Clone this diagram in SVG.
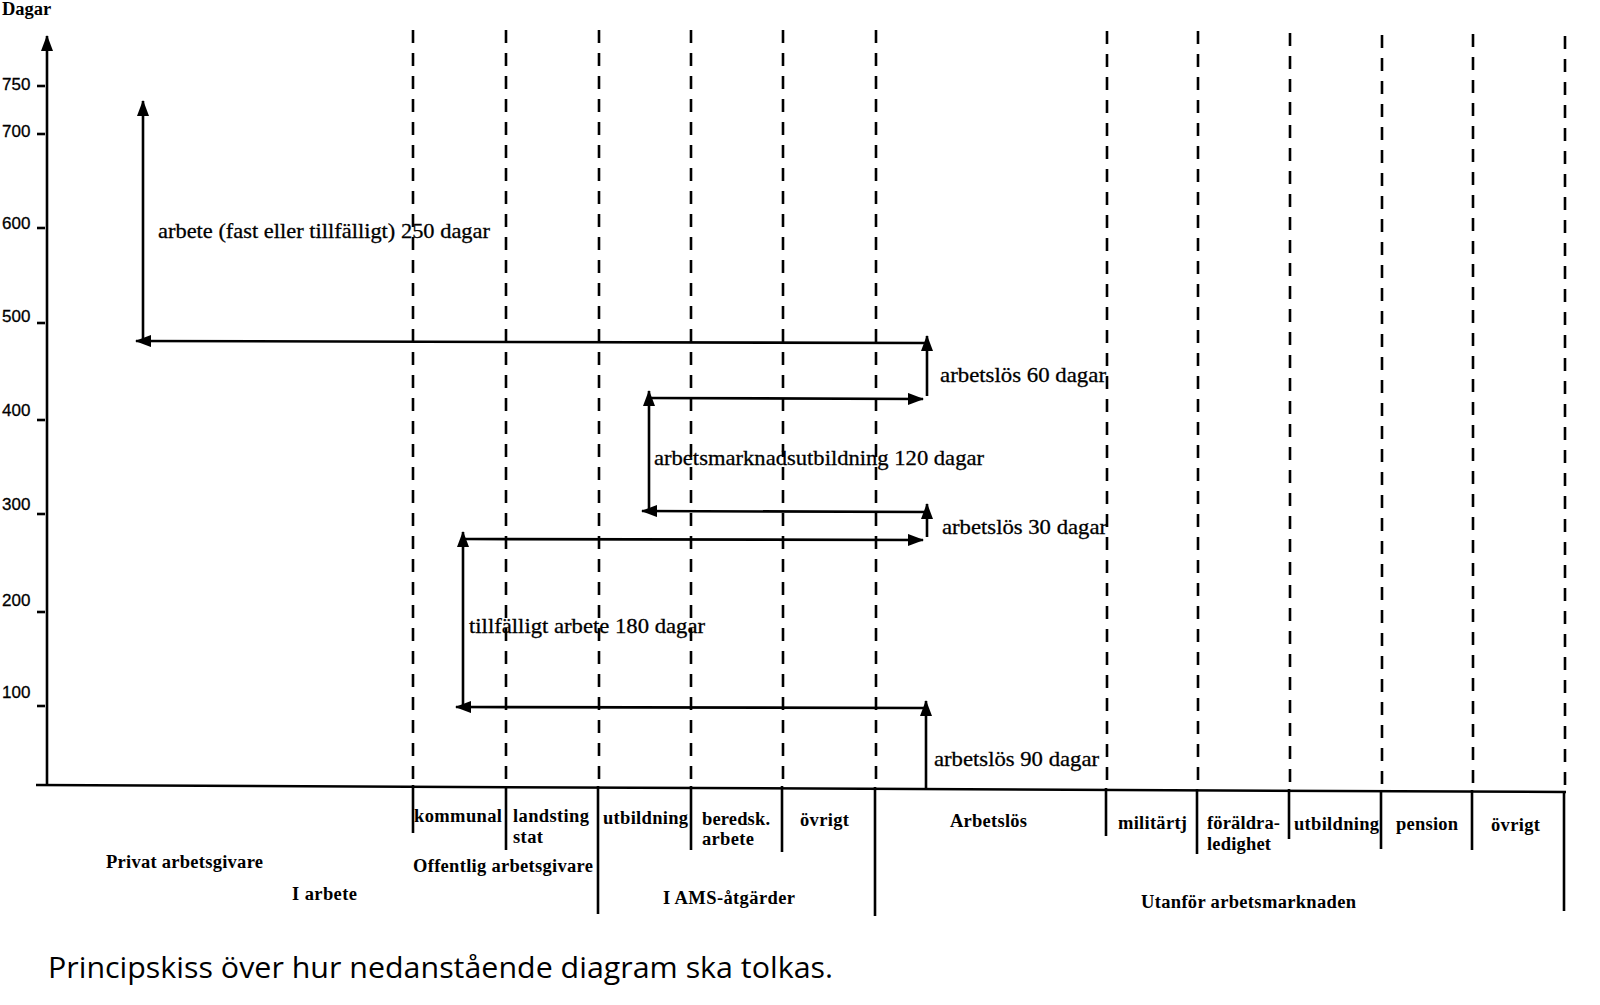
<svg xmlns="http://www.w3.org/2000/svg" width="1600" height="1005" viewBox="0 0 1600 1005">
<defs>
<marker id="ah" viewBox="0 0 16 12" refX="15" refY="6" markerWidth="16" markerHeight="12" markerUnits="userSpaceOnUse" orient="auto">
<path d="M0,0 L16,6 L0,12 Z" fill="#000"/>
</marker>
</defs>
<style>
.ax{stroke:#000;stroke-width:2.5;fill:none}
.dash{stroke:#000;stroke-width:2.6;fill:none;stroke-dasharray:13 10}
.sol{stroke:#000;stroke-width:2.6;fill:none}
.arr{stroke:#000;stroke-width:2.6;fill:none;marker-end:url(#ah)}
.tk{font-family:"Liberation Sans",Arial,sans-serif;font-size:17px;fill:#000;stroke:#000;stroke-width:0.3}
.lbl{font-family:"Liberation Serif","Times New Roman",serif;font-size:22px;fill:#000;stroke:#000;stroke-width:0.3}
.cat{font-family:"Liberation Serif","Times New Roman",serif;font-size:18.5px;font-weight:bold;fill:#000}
.cap{font-family:"Open Sans","Noto Sans",sans-serif;font-size:29px;fill:#000}
</style>
<rect width="1600" height="1005" fill="#fff"/>
<g id="axes">
<line class="arr" x1="47" y1="786" x2="47" y2="36"/>
<line class="ax" x1="36" y1="785" x2="1566" y2="792"/>
<text class="cat" x="2" y="15" font-size="16">Dagar</text>
<g class="tk">
<text x="2" y="90">750</text><text x="2" y="137">700</text><text x="2" y="229">600</text><text x="2" y="322">500</text><text x="2" y="416">400</text><text x="2" y="510">300</text><text x="2" y="606">200</text><text x="2" y="698">100</text>
</g>
<g class="sol" stroke-width="1.5">
<line x1="37" y1="86" x2="45" y2="86"/><line x1="37" y1="134" x2="45" y2="134"/><line x1="37" y1="228" x2="45" y2="228"/><line x1="37" y1="323" x2="45" y2="323"/><line x1="37" y1="420" x2="45" y2="420"/><line x1="37" y1="514" x2="45" y2="514"/><line x1="37" y1="612" x2="45" y2="612"/><line x1="37" y1="706" x2="45" y2="706"/>
</g>
</g>
<g id="dividers">
<g class="dash">
<line x1="413" y1="30" x2="413" y2="785"/>
<line x1="506" y1="30" x2="506" y2="785"/>
<line x1="599" y1="30" x2="599" y2="786"/>
<line x1="691" y1="30" x2="691" y2="786"/>
<line x1="783" y1="30" x2="783" y2="786"/>
<line x1="876" y1="30" x2="876" y2="787"/>
<line x1="1107" y1="31" x2="1107" y2="788"/>
<line x1="1198" y1="31" x2="1198" y2="789"/>
<line x1="1290" y1="33" x2="1290" y2="789"/>
<line x1="1382" y1="35" x2="1382" y2="790"/>
<line x1="1473" y1="34" x2="1473" y2="790"/>
<line x1="1565" y1="36" x2="1565" y2="791"/>
</g>
<g class="sol">
<line x1="413" y1="785" x2="413" y2="833"/>
<line x1="506" y1="786" x2="506" y2="850"/>
<line x1="598" y1="786" x2="598" y2="914"/>
<line x1="691" y1="786" x2="691" y2="850"/>
<line x1="782" y1="786" x2="782" y2="852"/>
<line x1="875" y1="787" x2="875" y2="916"/>
<line x1="1106" y1="788" x2="1106" y2="836"/>
<line x1="1197" y1="789" x2="1197" y2="854"/>
<line x1="1289" y1="789" x2="1289" y2="839"/>
<line x1="1381" y1="790" x2="1381" y2="849"/>
<line x1="1472" y1="790" x2="1472" y2="850"/>
<line x1="1564" y1="791" x2="1564" y2="911"/>
</g>
</g>
<g id="connectors">
<line class="arr" x1="143" y1="341" x2="143" y2="101"/>
<line class="arr" x1="927" y1="343" x2="136" y2="341"/>
<line class="arr" x1="927" y1="396" x2="927" y2="336"/>
<line class="arr" x1="649" y1="398" x2="923" y2="399"/>
<line class="arr" x1="649" y1="510" x2="649" y2="391"/>
<line class="arr" x1="927" y1="512" x2="642" y2="511"/>
<line class="arr" x1="927" y1="537" x2="927" y2="504"/>
<line class="arr" x1="463" y1="539" x2="923" y2="540"/>
<line class="arr" x1="463" y1="707" x2="463" y2="532"/>
<line class="arr" x1="927" y1="708" x2="456" y2="707"/>
<line class="arr" x1="926" y1="788" x2="926" y2="701"/>
</g>
<g id="flow-labels">
<text class="lbl" x="158" y="238" textLength="332" lengthAdjust="spacingAndGlyphs">arbete (fast eller tillfälligt) 250 dagar</text>
<text class="lbl" x="940" y="382" textLength="166" lengthAdjust="spacingAndGlyphs">arbetslös 60 dagar</text>
<text class="lbl" x="654" y="465" textLength="330" lengthAdjust="spacingAndGlyphs">arbetsmarknadsutbildning 120 dagar</text>
<text class="lbl" x="942" y="534" textLength="165" lengthAdjust="spacingAndGlyphs">arbetslös 30 dagar</text>
<text class="lbl" x="469" y="633" textLength="236" lengthAdjust="spacingAndGlyphs">tillfälligt arbete 180 dagar</text>
<text class="lbl" x="934" y="766" textLength="165" lengthAdjust="spacingAndGlyphs">arbetslös 90 dagar</text>
</g>
<g id="categories">
<text class="cat" x="414" y="822" textLength="88">kommunal</text>
<text class="cat" x="513" y="822" textLength="76">landsting</text>
<text class="cat" x="513" y="843" textLength="30">stat</text>
<text class="cat" x="603" y="824" textLength="85">utbildning</text>
<text class="cat" x="702" y="825" textLength="68">beredsk.</text>
<text class="cat" x="702" y="845" textLength="52">arbete</text>
<text class="cat" x="800" y="826" textLength="49">övrigt</text>
<text class="cat" x="950" y="827" textLength="77">Arbetslös</text>
<text class="cat" x="1118" y="829" textLength="69">militärtj</text>
<text class="cat" x="1207" y="829" textLength="73">föräldra-</text>
<text class="cat" x="1207" y="850" textLength="64">ledighet</text>
<text class="cat" x="1294" y="830" textLength="85">utbildning</text>
<text class="cat" x="1396" y="830" textLength="62">pension</text>
<text class="cat" x="1491" y="831" textLength="49">övrigt</text>
<text class="cat" x="106" y="868" textLength="157">Privat arbetsgivare</text>
<text class="cat" x="413" y="872" textLength="180">Offentlig arbetsgivare</text>
<text class="cat" x="292" y="900" textLength="65">I arbete</text>
<text class="cat" x="663" y="904" textLength="132">I AMS-åtgärder</text>
<text class="cat" x="1141" y="908" textLength="215">Utanför arbetsmarknaden</text>
</g>
<text class="cap" x="48" y="978" textLength="785" lengthAdjust="spacingAndGlyphs">Principskiss över hur nedanstående diagram ska tolkas.</text>
</svg>
